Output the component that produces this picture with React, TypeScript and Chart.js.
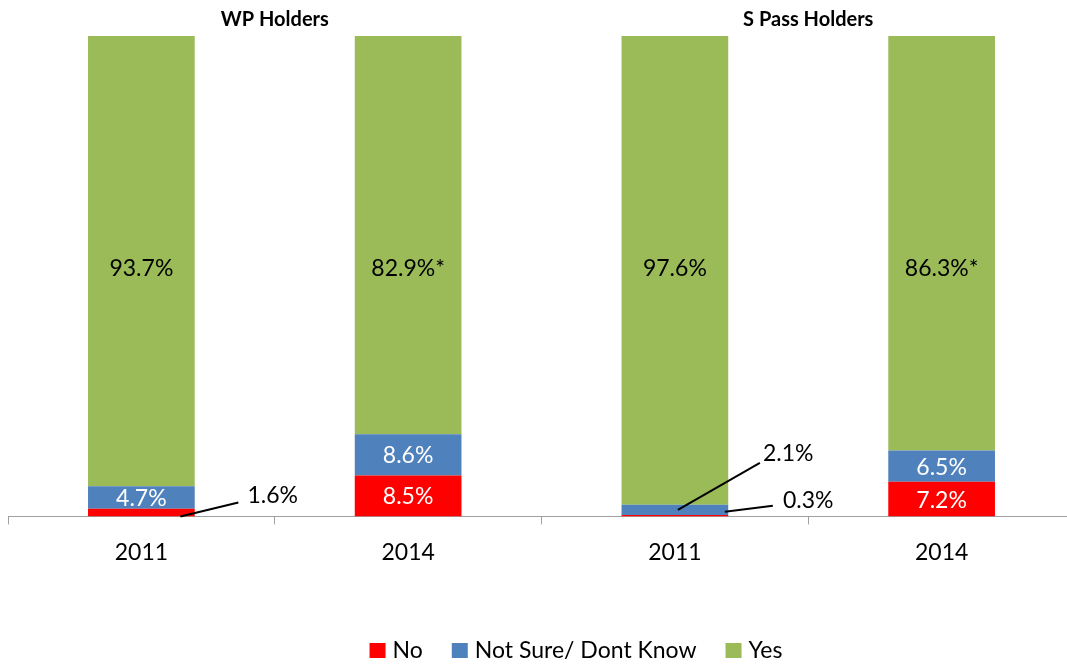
import React, { useEffect, useRef } from 'react';
import { Chart, registerables } from 'chart.js';

Chart.register(...registerables);

const categories = ['2011', '2014', '2011', '2014'];
const noValues = [1.6, 8.5, 0.3, 7.2];
const notSureValues = [4.7, 8.6, 2.1, 6.5];
const yesValues = [93.7, 82.9, 97.6, 86.3];
const yesLabels = ['93.7%', '82.9%*', '97.6%', '86.3%*'];
const seriesNames = ['No', 'Not Sure/ Dont Know', 'Yes'];
const seriesColors = ['#FF0000', '#4F81BD', '#9BBB59'];
const groupTitles = ['WP Holders', 'S Pass Holders'];

const FONT = 'Lato, "Open Sans", sans-serif';
const YES_LABEL_LEVEL = 51.5;
const LEGEND_CENTER_X = 576;
const LEGEND_Y = 650;

// leader-line callouts: offsets relative to bar centre x / segment centre y
const callouts = [
  { ds: 0, i: 0, from: [39, 4], to: [97, -10], text: [9, -7] },
  { ds: 1, i: 2, from: [3, 0], to: [85, -47], text: [3, -9] },
  { ds: 0, i: 2, from: [50, -4], to: [98, -10], text: [10, -5] },
];

const labelPlugin = {
  id: 'customLabels',
  afterDatasetsDraw(chart: any) {
    const ctx = chart.ctx;
    const yScale = chart.scales.y;
    const xScale = chart.scales.x;
    ctx.save();
    ctx.font = `23px ${FONT}`;
    ctx.textBaseline = 'middle';
    chart.data.datasets.forEach((ds: any, di: number) => {
      const meta = chart.getDatasetMeta(di);
      meta.data.forEach((bar: any, i: number) => {
        const v = ds.data[i];
        const label = di === 2 ? yesLabels[i] : v.toFixed(1) + '%';
        const p = bar.getProps(['x', 'y', 'base'], true);
        const cy = (p.y + p.base) / 2;
        const c = callouts.find((k) => k.ds === di && k.i === i);
        if (c) {
          const x0 = p.x + c.from[0], y0 = cy + c.from[1];
          const x1 = p.x + c.to[0], y1 = cy + c.to[1];
          ctx.strokeStyle = '#000';
          ctx.lineWidth = 2;
          ctx.beginPath();
          ctx.moveTo(x0, y0);
          ctx.lineTo(x1, y1);
          ctx.stroke();
          ctx.fillStyle = '#000';
          ctx.textAlign = 'left';
          ctx.fillText(label, x1 + c.text[0], y1 + c.text[1]);
        } else if (di === 2) {
          ctx.fillStyle = '#000';
          ctx.textAlign = 'center';
          ctx.fillText(label, p.x, yScale.getPixelForValue(YES_LABEL_LEVEL));
        } else {
          ctx.fillStyle = '#FFFFFF';
          ctx.textAlign = 'center';
          ctx.fillText(label, p.x, cy + 1);
        }
      });
    });

    // group titles
    ctx.font = `bold 20px ${FONT}`;
    ctx.fillStyle = '#000';
    ctx.textAlign = 'center';
    groupTitles.forEach((t, g) => {
      const xa = xScale.getPixelForValue(g * 2);
      const xb = xScale.getPixelForValue(g * 2 + 1);
      ctx.fillText(t, (xa + xb) / 2, 20);
    });

    // legend
    ctx.font = `23px ${FONT}`;
    const box = 16, gapText = 7, gapItem = 29;
    const widths = seriesNames.map((n) => ctx.measureText(n).width);
    const total = widths.reduce((a, w) => a + box + gapText + w, 0) + gapItem * (seriesNames.length - 1);
    let lx = LEGEND_CENTER_X - total / 2;
    seriesNames.forEach((n, k) => {
      ctx.fillStyle = seriesColors[k];
      ctx.fillRect(lx, LEGEND_Y - 7, box, 15);
      ctx.fillStyle = '#000';
      ctx.textAlign = 'left';
      ctx.fillText(n, lx + box + gapText, LEGEND_Y + 1);
      lx += box + gapText + widths[k] + gapItem;
    });
    ctx.restore();
  },
};

export default function App() {
  const ref = useRef<HTMLCanvasElement>(null);
  useEffect(() => {
    document.body.style.margin = '0';
    const chart = new Chart(ref.current as HTMLCanvasElement, {
      type: 'bar',
      data: {
        labels: categories,
        datasets: [
          { label: seriesNames[0], data: noValues, backgroundColor: seriesColors[0] },
          { label: seriesNames[1], data: notSureValues, backgroundColor: seriesColors[1] },
          { label: seriesNames[2], data: yesValues, backgroundColor: seriesColors[2] },
        ],
      },
      options: {
        responsive: false,
        animation: false,
        devicePixelRatio: 1,
        layout: { padding: { left: 8, right: 0, top: 36, bottom: 84 } },
        datasets: { bar: { categoryPercentage: 1, barPercentage: 0.4 } },
        plugins: { legend: { display: false }, tooltip: { enabled: false }, title: { display: false } },
        scales: {
          x: {
            stacked: true,
            grid: { offset: true, drawOnChartArea: false, drawTicks: true, tickLength: 8, color: '#A0A0A0' },
            border: { display: true, color: '#A0A0A0', width: 1 },
            ticks: { color: '#000', font: { family: FONT, size: 23 }, padding: 14 },
          },
          y: { stacked: true, display: false, min: 0, max: 100 },
        },
      },
      plugins: [labelPlugin],
    } as any);
    return () => chart.destroy();
  }, []);
  return (
    <div style={{ width: 1067, height: 664, overflow: 'hidden', position: 'relative' }}>
      <canvas ref={ref} width={1075} height={664} style={{ display: 'block' }} />
    </div>
  );
}
